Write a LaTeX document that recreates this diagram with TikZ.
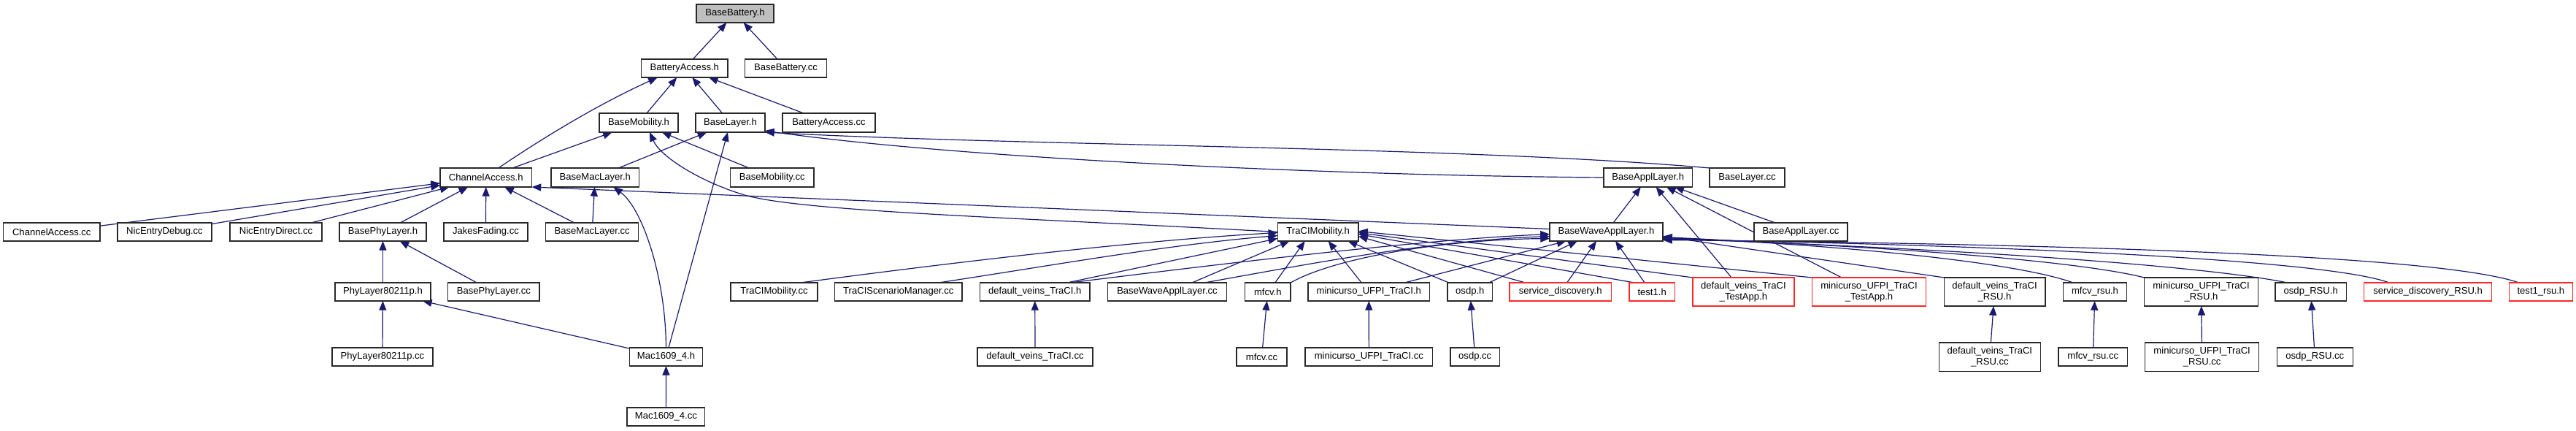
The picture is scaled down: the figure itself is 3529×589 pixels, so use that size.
\documentclass[tikz,border=0pt]{standalone}
\usepackage{fontspec}
\setmainfont{Liberation Sans}
\usetikzlibrary{arrows.meta}
\definecolor{edgeblue}{RGB}{25,25,112}
\definecolor{boxred}{RGB}{255,40,40}
\definecolor{boxgray}{RGB}{191,191,191}
\definecolor{boxline}{RGB}{40,40,40}
\newcommand\bx[7]{\node[#1,minimum width={(#4-#2)*0.75pt},minimum height={(#5-#3)*0.75pt}] (#6) at ({(#2+#4)/2},{(#3+#5)/2}) {#7};}
\pgfdeclarelayer{bg}
\pgfsetlayers{bg,main}
\begin{document}
\begin{tikzpicture}[x=0.75pt,y=-0.75pt,
 nodebase/.style={rectangle, inner sep=0pt, outer sep=0pt, align=center, font=\fontsize{9.8}{11.3}\selectfont, line width=1.1pt, fill=white},
 hbox/.style={nodebase, draw=boxline},
 rbox/.style={nodebase, draw=boxred},
 gbox/.style={nodebase, draw=boxline, fill=boxgray},
 dep/.style={draw=edgeblue, line width=0.9pt, -{Triangle[length=9.5pt,width=7.5pt]}}]
\useasboundingbox (0,0) rectangle (3529,589);
\begin{pgfonlayer}{bg}
\fill[white] (0,0) rectangle (3529,589);
\end{pgfonlayer}
% row 0
\bx{gbox}{954}{6}{1060}{31}{BBh}{BaseBattery.h}
% row 1
\bx{hbox}{878.5}{81}{997}{106}{BAh}{BatteryAccess.h}
\bx{hbox}{1020.5}{81}{1132.6}{106}{BBcc}{BaseBattery.cc}
% row 2
\bx{hbox}{821}{155}{929}{181}{BMh}{BaseMobility.h}
\bx{hbox}{953}{155}{1048}{181}{BLh}{BaseLayer.h}
\bx{hbox}{1072}{155}{1199}{181}{BAcc}{BatteryAccess.cc}
% row 3
\bx{hbox}{603}{230}{728.5}{256}{CAh}{ChannelAccess.h}
\bx{hbox}{755}{230}{875.5}{256}{BMLh}{BaseMacLayer.h}
\bx{hbox}{1000.6}{230}{1115}{256}{BMcc}{BaseMobility.cc}
\bx{hbox}{2197}{230}{2318.5}{256}{BALh}{BaseApplLayer.h}
\bx{hbox}{2342}{230}{2445}{256}{BLcc}{BaseLayer.cc}
% row 4
\bx{hbox}{4.6}{305}{137}{330}{CAcc}{ChannelAccess.cc}
\bx{hbox}{161}{305}{290}{330}{NEDbg}{NicEntryDebug.cc}
\bx{hbox}{315}{305}{441}{330}{NEDir}{NicEntryDirect.cc}
\bx{hbox}{465}{305}{584}{330}{BPLh}{BasePhyLayer.h}
\bx{hbox}{608}{305}{723}{330}{JFcc}{JakesFading.cc}
\bx{hbox}{747.6}{305}{874.7}{330}{BMLcc}{BaseMacLayer.cc}
\bx{hbox}{1750.3}{305}{1861}{330}{TMh}{TraCIMobility.h}
\bx{hbox}{2123}{305}{2278}{330}{BWALh}{BaseWaveApplLayer.h}
\bx{hbox}{2403}{305}{2531}{330}{BALcc}{BaseApplLayer.cc}
% row 5
\bx{hbox}{459}{387}{590}{412}{PLh}{PhyLayer80211p.h}
\bx{hbox}{613.7}{387}{739}{412}{BPLcc}{BasePhyLayer.cc}
\bx{hbox}{1001}{387}{1120}{412}{TMcc}{TraCIMobility.cc}
\bx{hbox}{1143.7}{387}{1318}{412}{TSMcc}{TraCIScenarioManager.cc}
\bx{hbox}{1342.5}{387}{1493}{412}{DVTh}{default\_veins\_TraCI.h}
\bx{hbox}{1517.5}{387}{1680.5}{412}{BWALcc}{BaseWaveApplLayer.cc}
\bx{hbox}{1705.5}{387}{1768}{412}{MFh}{mfcv.h}
\bx{hbox}{1792}{387}{1958.5}{412}{MUTh}{minicurso\_UFPI\_TraCI.h}
\bx{hbox}{1983}{387}{2044.6}{412}{OSh}{osdp.h}
\bx{rbox}{2068}{387}{2207.3}{412}{SDh}{service\_discovery.h}
\bx{rbox}{2231.8}{387}{2294.5}{412}{T1h}{test1.h}
\bx{rbox}{2319}{380}{2457.8}{419}{DVTAh}{default\_veins\_TraCI\\\_TestApp.h}
\bx{rbox}{2482.6}{380}{2638.4}{419}{MUTAh}{minicurso\_UFPI\_TraCI\\\_TestApp.h}
\bx{hbox}{2663.3}{380}{2801.8}{419}{DVRh}{default\_veins\_TraCI\\\_RSU.h}
\bx{hbox}{2826.7}{387}{2913.2}{412}{MRh}{mfcv\_rsu.h}
\bx{hbox}{2937.4}{380}{3093.6}{419}{MURh}{minicurso\_UFPI\_TraCI\\\_RSU.h}
\bx{hbox}{3116.9}{387}{3214.5}{412}{ORh}{osdp\_RSU.h}
\bx{rbox}{3238.6}{387}{3413.5}{412}{SDRh}{service\_discovery\_RSU.h}
\bx{rbox}{3437.2}{387}{3524.5}{412}{T1Rh}{test1\_rsu.h}
% row 6
\bx{hbox}{455}{476}{593}{501}{PLcc}{PhyLayer80211p.cc}
\bx{hbox}{862.3}{476}{962.7}{501}{MACh}{Mac1609\_4.h}
\bx{hbox}{1339}{476}{1497}{501}{DVTcc}{default\_veins\_TraCI.cc}
\bx{hbox}{1694}{476}{1763}{501}{MFcc}{mfcv.cc}
\bx{hbox}{1788}{476}{1962.7}{501}{MUTcc}{minicurso\_UFPI\_TraCI.cc}
\bx{hbox}{1986.8}{476}{2054.6}{501}{OScc}{osdp.cc}
\bx{hbox}{2656.4}{469}{2795.3}{508.6}{DVRcc}{default\_veins\_TraCI\\\_RSU.cc}
\bx{hbox}{2819.8}{476}{2914.7}{501}{MRcc}{mfcv\_rsu.cc}
\bx{hbox}{2938.6}{469}{3094.7}{508.6}{MURcc}{minicurso\_UFPI\_TraCI\\\_RSU.cc}
\bx{hbox}{3119.2}{476}{3223.3}{501}{ORcc}{osdp\_RSU.cc}
% row 7
\bx{hbox}{859}{558}{965.7}{583}{MACcc}{Mac1609\_4.cc}

\begin{pgfonlayer}{bg}
% BaseBattery.h
\draw[dep] (BAh) -- (BBh);
\draw[dep] (BBcc) -- (BBh);
% BatteryAccess.h
\draw[dep] ([shift={(17,0)}]CAh.north) .. controls (760,178) and (830,138) .. ([shift={(-37,0)}]BAh.south);
\draw[dep] (BMh) -- (BAh);
\draw[dep] (BLh) -- (BAh);
\draw[dep] (BAcc) -- (BAh);
% BaseMobility.h
\draw[dep] (CAh) -- (BMh);
\draw[dep] (BMcc) -- (BMh);
\draw[dep] (TMh.west) .. controls (1400,298) and (1100,290) .. (1020,267) .. controls (960,249) and (905,215) .. ([shift={(15,0)}]BMh.south);
% BaseLayer.h
\draw[dep] (BMLh) -- (BLh);
\draw[dep] (MACh) -- (BLh);
\draw[dep] (BLcc.north west) .. controls (2000,200) and (1400,200) .. (BLh.south east);
\draw[dep] (BALh.west) .. controls (1800,240) and (1300,215) .. ([shift={(0,-2)}]BLh.south east);
% BaseMacLayer.h
\draw[dep] (MACh.north) .. controls (912,380) and (880,285) .. ([shift={(25,0)}]BMLh.south);
\draw[dep] (BMLcc) -- (BMLh);
% ChannelAccess.h
\draw[dep] (BMLcc) -- (CAh);
\draw[dep] (JFcc) -- (CAh);
\draw[dep] (BPLh) -- (CAh);
\draw[dep] (NEDir) -- (CAh);
\draw[dep] (NEDbg) -- (CAh);
\draw[dep] (CAcc) -- (CAh);
\draw[dep] ([shift={(0,-4)}]BWALh.west) -- (CAh.south east);
% BasePhyLayer.h / PhyLayer80211p.h / Mac1609_4.h
\draw[dep] (PLh) -- (BPLh);
\draw[dep] (BPLcc) -- (BPLh);
\draw[dep] (PLcc) -- (PLh);
\draw[dep] (MACh) -- (PLh);
\draw[dep] (MACcc) -- (MACh);
% BaseApplLayer.h
\draw[dep] (BWALh) -- (BALh);
\draw[dep] (DVTAh) -- (BALh);
\draw[dep] (MUTAh) -- (BALh);
\draw[dep] (BALcc) -- (BALh);
% TraCIMobility.h
\draw[dep] ([shift={(36,0)}]TMcc.north) .. controls (1300,360) and (1550,330) .. ([shift={(0,1)}]TMh.west);
\draw[dep] ([shift={(55,0)}]TSMcc.north) .. controls (1450,362) and (1600,335) .. ([shift={(0,5)}]TMh.west);
\draw[dep] ([shift={(44,0)}]DVTh.north) -- ([shift={(0,9)}]TMh.west);
\draw[dep] ([shift={(34,0)}]BWALcc.north) -- ([shift={(-39,0)}]TMh.south);
\draw[dep] ([shift={(10,0)}]MFh.north) -- ([shift={(-18,0)}]TMh.south);
\draw[dep] ([shift={(-10,0)}]MUTh.north) -- ([shift={(14,0)}]TMh.south);
\draw[dep] ([shift={(-29,0)}]OSh.north) -- ([shift={(41,0)}]TMh.south);
\draw[dep] ([shift={(-48,0)}]SDh.north) -- ([shift={(0,6)}]TMh.east);
\draw[dep] ([shift={(-24,0)}]T1h.north) -- ([shift={(0,3)}]TMh.east);
\draw[dep] (DVTAh.north west) -- ([shift={(0,1)}]TMh.east);
\draw[dep] (MUTAh.north west) -- ([shift={(0,-1)}]TMh.east);
% BaseWaveApplLayer.h
\draw[dep] ([shift={(48,0)}]DVTh.north) .. controls (1700,358) and (1950,328) .. ([shift={(0,3)}]BWALh.west);
\draw[dep] ([shift={(51,0)}]BWALcc.north) .. controls (1780,364) and (1950,330) .. ([shift={(0,6)}]BWALh.west);
\draw[dep] (MFh.north east) .. controls (1830,352) and (1980,328) .. ([shift={(0,9)}]BWALh.west);
\draw[dep] ([shift={(49,0)}]MUTh.north) -- ([shift={(-55,0)}]BWALh.south);
\draw[dep] ([shift={(26,0)}]OSh.north) -- ([shift={(-39.5,0)}]BWALh.south);
\draw[dep] ([shift={(9,0)}]SDh.north) -- ([shift={(-13.5,0)}]BWALh.south);
\draw[dep] ([shift={(-10,0)}]T1h.north) -- ([shift={(12.5,0)}]BWALh.south);
\draw[dep] (DVRh.north west) -- ([shift={(0,6)}]BWALh.east);
\draw[dep] ([shift={(-30,0)}]MRh.north) .. controls (2780,365) and (2600,340) .. ([shift={(0,7)}]BWALh.east);
\draw[dep] (MURh.north west) .. controls (2880,365) and (2700,342) .. ([shift={(0,8)}]BWALh.east);
\draw[dep] ([shift={(-32,0)}]ORh.north) .. controls (3050,370) and (2800,345) .. ([shift={(0,9)}]BWALh.east);
\draw[dep] ([shift={(-53,0)}]SDRh.north) .. controls (3200,360) and (2850,338) .. ([shift={(0,10)}]BWALh.east);
\draw[dep] ([shift={(-30,0)}]T1Rh.north) .. controls (3350,352) and (2900,335) .. ([shift={(0,11)}]BWALh.east);
% leaves
\draw[dep] (DVTcc) -- (DVTh);
\draw[dep] (MFcc) -- (MFh);
\draw[dep] (MUTcc) -- (MUTh);
\draw[dep] (OScc) -- (OSh);
\draw[dep] (DVRcc) -- (DVRh);
\draw[dep] (MRcc) -- (MRh);
\draw[dep] (MURcc) -- (MURh);
\draw[dep] (ORcc) -- (ORh);
\end{pgfonlayer}
\end{tikzpicture}
\end{document}
